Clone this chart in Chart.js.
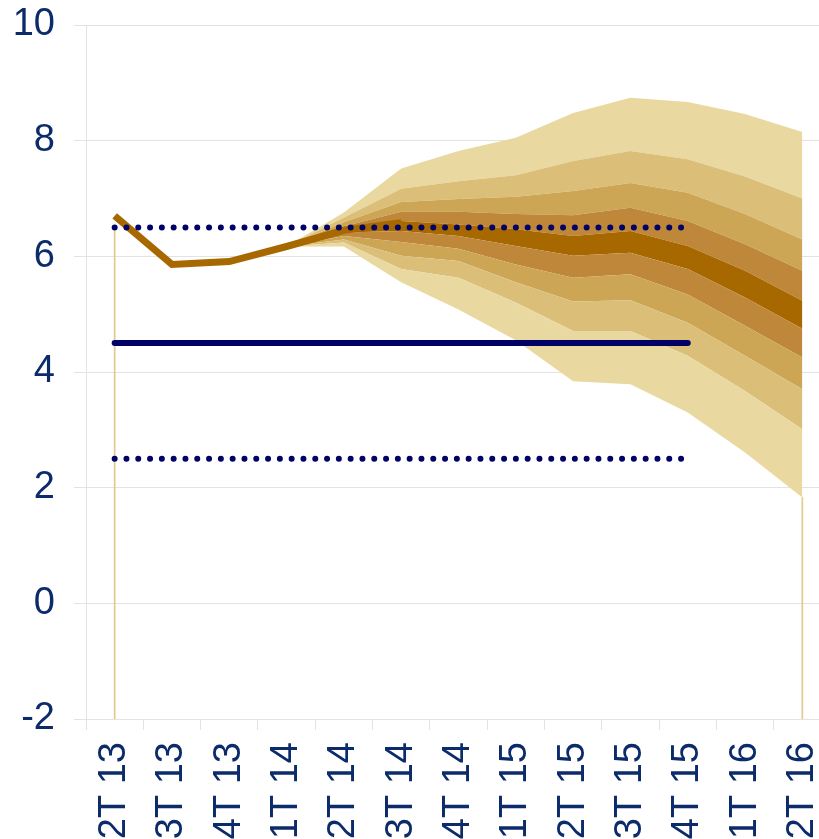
<!DOCTYPE html>
<html lang="pt">
<head>
    <meta charset="UTF-8">
    <title>Leque de inflação</title>
    <script src="https://cdn.jsdelivr.net/npm/chart.js"></script>
    <style>
        body { margin: 0; overflow: hidden; background: #fff; }
        #wrap { position: absolute; left: 0; top: 0; width: 860px; height: 839px; }
    </style>
</head>
<body>

<div id="wrap"><canvas id="fanChart"></canvas></div>

<script>
    const trimestres = ['2T 13', '3T 13', '4T 13', '1T 14', '2T 14', '3T 14', '4T 14',
                        '1T 15', '2T 15', '3T 15', '4T 15', '1T 16', '2T 16'];
    const yTicks = [-2, 0, 2, 4, 6, 8, 10];

    // inflação observada / central
    const ipca = [6.70, 5.86, 5.91, 6.17, 6.45, 6.58, null, null, null, null, null, null, null];

    // meta e limites (até 4T 15)
    const meta      = [4.5, 4.5, 4.5, 4.5, 4.5, 4.5, 4.5, 4.5, 4.5, 4.5, 4.5, null, null];
    const limiteSup = [6.5, 6.5, 6.5, 6.5, 6.5, 6.5, 6.5, 6.5, 6.5, 6.5, 6.5, null, null];
    const limiteInf = [2.5, 2.5, 2.5, 2.5, 2.5, 2.5, 2.5, 2.5, 2.5, 2.5, 2.5, null, null];

    // fronteiras do leque, de baixo para cima
    const f0 = [null, null, null, 6.17, 6.17, 5.55, 5.08, 4.55, 3.84, 3.79, 3.30, 2.61, 1.83];
    const f1 = [null, null, null, 6.17, 6.24, 5.78, 5.63, 5.20, 4.71, 4.71, 4.28, 3.67, 3.01];
    const f2 = [null, null, null, 6.17, 6.29, 6.01, 5.92, 5.55, 5.22, 5.24, 4.85, 4.28, 3.70];
    const f3 = [null, null, null, 6.17, 6.35, 6.25, 6.13, 5.86, 5.63, 5.69, 5.34, 4.80, 4.25];
    const f4 = [null, null, null, 6.17, 6.41, 6.44, 6.35, 6.18, 6.01, 6.06, 5.78, 5.29, 4.75];
    const f5 = [null, null, null, 6.17, 6.48, 6.61, 6.55, 6.47, 6.35, 6.44, 6.18, 5.75, 5.23];
    const f6 = [null, null, null, 6.17, 6.52, 6.77, 6.77, 6.73, 6.71, 6.84, 6.61, 6.21, 5.75];
    const f7 = [null, null, null, 6.17, 6.59, 6.94, 6.99, 7.03, 7.13, 7.27, 7.10, 6.73, 6.29];
    const f8 = [null, null, null, 6.17, 6.67, 7.17, 7.30, 7.40, 7.65, 7.82, 7.68, 7.38, 7.00];
    const f9 = [null, null, null, 6.17, 6.76, 7.52, 7.82, 8.05, 8.48, 8.74, 8.67, 8.46, 8.15];

    // linhas finas nas bordas do leque
    const bordas = [[-2, 6.5], null, null, null, null, null, null, null, null, null, null, null, [-2, 1.83]];

    const fronteiras = [f0, f1, f2, f3, f4, f5, f6, f7, f8, f9];
    const cores = [null, '#e9d8a0', '#dbbf78', '#cda655', '#be8739',
                   '#a86800', '#be8739', '#cda655', '#dbbf78', '#e9d8a0'];

    const textColor = '#0c2b6b';
    const navy = '#000066';
    const gridColor = '#e3e3e3';

    const fanSets = fronteiras.map((f, i) => ({
        type: 'line',
        data: f,
        borderWidth: 0,
        pointRadius: 0,
        backgroundColor: cores[i] || 'transparent',
        fill: i === 0 ? false : '-1',
        order: 10
    }));

    const dotted = (values) => ({
        type: 'line',
        data: values,
        borderColor: navy,
        borderWidth: 6,
        borderDash: [0, 11.8],
        borderCapStyle: 'round',
        pointRadius: 0,
        fill: false,
        order: 1
    });

    const ctx = document.getElementById('fanChart').getContext('2d');
    let chart = new Chart(ctx, {
        type: 'line',
        data: {
            labels: trimestres,
            datasets: [
                ...fanSets,
                {
                    type: 'line',
                    data: ipca,
                    borderColor: '#a86800',
                    borderWidth: 7,
                    pointRadius: 0,
                    fill: false,
                    order: 2
                },
                {
                    type: 'line',
                    data: meta,
                    borderColor: navy,
                    borderWidth: 6,
                    borderCapStyle: 'round',
                    pointRadius: 0,
                    fill: false,
                    order: 0
                },
                dotted(limiteSup),
                dotted(limiteInf),
                {
                    type: 'bar',
                    data: bordas,
                    backgroundColor: '#e3c98a',
                    barThickness: 1,
                    order: 20
                }
            ]
        },
        options: {
            responsive: true,
            maintainAspectRatio: false,
            animation: false,
            layout: { padding: { top: 25, right: 29, left: 0, bottom: 0 } },
            plugins: {
                legend: { display: false },
                tooltip: { enabled: false }
            },
            scales: {
                x: {
                    offset: true,
                    grid: {
                        offset: true,
                        drawOnChartArea: false,
                        color: gridColor,
                        tickLength: 11
                    },
                    border: { color: gridColor },
                    ticks: {
                        color: textColor,
                        font: { family: 'Liberation Sans, Arial', size: 38 },
                        maxRotation: 90,
                        minRotation: 90,
                        padding: 12,
                        autoSkip: false
                    },
                    afterFit: (scale) => {
                        scale.height = 120;
                        scale.paddingLeft = 0;
                        scale.paddingRight = 0;
                    }
                },
                y: {
                    min: -2,
                    max: 10,
                    afterBuildTicks: (scale) => {
                        scale.ticks = yTicks.map(v => ({ value: v }));
                    },
                    grid: { color: gridColor, tickLength: 12 },
                    border: { color: gridColor },
                    ticks: {
                        color: textColor,
                        font: { family: 'Liberation Sans, Arial', size: 38 },
                        padding: 19
                    },
                    afterFit: (scale) => {
                        scale.width = 86;
                        scale.paddingTop = 0;
                        scale.paddingBottom = 0;
                    }
                }
            }
        }
    });
</script>

</body>
</html>
